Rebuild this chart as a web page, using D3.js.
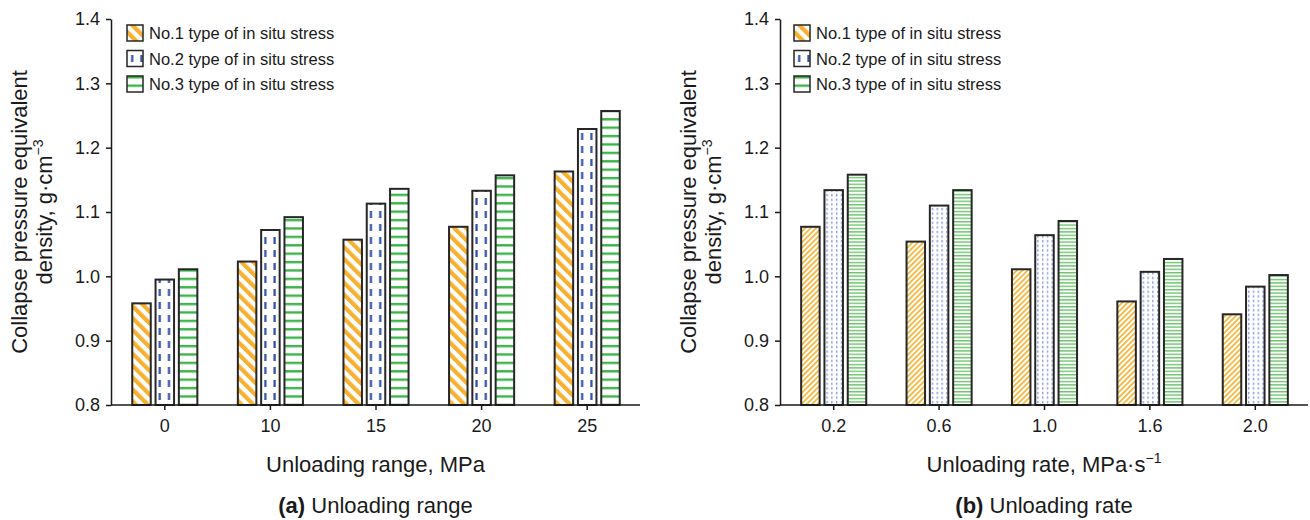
<!DOCTYPE html>
<html><head><meta charset="utf-8">
<script src="https://cdn.jsdelivr.net/npm/d3@7"></script>
<style>
body{margin:0;background:#fff;}
svg text{font-family:"Liberation Sans",Arial,Helvetica,sans-serif;fill:#1a1a1a;}
</style></head><body>
<svg id="chart" width="1310" height="520"></svg>
<script>
// ---------- data ----------
const rangeCategories = ["0", "10", "15", "20", "25"];
const rateCategories = ["0.2", "0.6", "1.0", "1.6", "2.0"];
const seriesNames = ["No.1 type of in situ stress", "No.2 type of in situ stress", "No.3 type of in situ stress"];
const rangeNo1 = [0.958, 1.023, 1.057, 1.077, 1.163];
const rangeNo2 = [0.995, 1.072, 1.113, 1.133, 1.229];
const rangeNo3 = [1.011, 1.092, 1.136, 1.157, 1.257];
const rateNo1 = [1.077, 1.054, 1.011, 0.961, 0.941];
const rateNo2 = [1.134, 1.110, 1.064, 1.007, 0.984];
const rateNo3 = [1.158, 1.134, 1.086, 1.027, 1.002];
const yTickValues = [0.8, 0.9, 1.0, 1.1, 1.2, 1.3, 1.4];
const yTitleLine1 = "Collapse pressure equivalent";
const yTitleLine2 = "density, g·cm";
const yTitleSup = "−3";

// ---------- styling ----------
const INK = "#1a1a1a";
const BAR_STROKE = "#262626";
const COLORS = {orange: "#F7B030", blue: "#2F4FA5", green: "#3DB54A",
                orange2: "#F5B335", blue2: "#7F95D6", green2: "#6EC36E"};

const svg = d3.select("#chart");
const defs = svg.append("defs");

function addPattern(id, style, ox) {
  const p = defs.append("pattern").attr("id", id).attr("patternUnits", "userSpaceOnUse");
  const bg = (w, h) => p.append("rect").attr("width", w).attr("height", h).attr("fill", "#fff");
  switch (style) {
    case "thickDiag": {
      const w = 8.4;
      p.attr("width", w).attr("height", w).attr("patternTransform", `translate(${ox},0) rotate(-45)`);
      bg(w, w); p.append("rect").attr("width", 4.2).attr("height", w).attr("fill", COLORS.orange);
      break;
    }
    case "dashV": {
      const w = 9.25, h = 13;
      p.attr("width", w).attr("height", h).attr("x", ox);
      bg(w, h); p.append("rect").attr("x", 3.1).attr("y", 3).attr("width", 2.2).attr("height", 7).attr("fill", COLORS.blue);
      break;
    }
    case "hLines": {
      const w = 10, h = 8.4;
      p.attr("width", w).attr("height", h).attr("y", 0.5);
      bg(w, h); p.append("rect").attr("y", 0).attr("width", w).attr("height", 2.4).attr("fill", COLORS.green);
      break;
    }
    case "thinDiag": {
      const w = 3.8;
      p.attr("width", w).attr("height", w).attr("patternTransform", `translate(${ox},0) rotate(45)`);
      bg(w, w); p.append("rect").attr("width", 1.7).attr("height", w).attr("fill", COLORS.orange2);
      break;
    }
    case "dotV": {
      const w = 4.8, h = 4.6;
      p.attr("width", w).attr("height", h).attr("x", ox);
      bg(w, h); p.append("rect").attr("x", 2.0).attr("y", 0.8).attr("width", 1.3).attr("height", 2.4).attr("fill", COLORS.blue2);
      break;
    }
    case "thinH": {
      const w = 10, h = 3.4;
      p.attr("width", w).attr("height", h);
      bg(w, h); p.append("rect").attr("width", w).attr("height", 1.4).attr("fill", COLORS.green2);
      break;
    }
  }
  return `url(#${id})`;
}

const y = d3.scaleLinear().domain([0.8, 1.4]).range([405, 19]);

const panels = [
  {id: "a", axisX: 111, x0: 112, x1: 640, categories: rangeCategories,
   series: [rangeNo1, rangeNo2, rangeNo3],
   styles: ["thickDiag", "dashV", "hLines"], legendStyles: ["thickDiag", "dashV", "hLines"],
   legendX: 127, xTitle: ["Unloading range, MPa", null], caption: ["(a)", " Unloading range"]},
  {id: "b", axisX: 780, x0: 781, x1: 1308, categories: rateCategories,
   series: [rateNo1, rateNo2, rateNo3],
   styles: ["thinDiag", "dotV", "thinH"], legendStyles: ["thickDiag", "dashV", "hLines"],
   legendX: 794, xTitle: ["Unloading rate, MPa·s", "−1"], caption: ["(b)", " Unloading rate"]}
];

panels.forEach(P => {
  const g = svg.append("g");
  const x = d3.scaleBand().domain(P.categories).range([P.x0, P.x1]).padding(0);
  const inner = d3.scaleBand().domain(d3.range(3)).range([-32.55, 32.55]).paddingInner(0.206).paddingOuter(0);
  const bw = inner.bandwidth();

  // bars
  P.series.forEach((vals, s) => {
    g.append("g").selectAll("rect").data(vals).join("rect")
      .attr("x", (d, i) => x(P.categories[i]) + x.bandwidth() / 2 + inner(s))
      .attr("y", d => y(d))
      .attr("width", bw)
      .attr("height", d => y(0.8) - y(d))
      .attr("fill", (d, i) => addPattern(`p${P.id}${s}_${i}`, P.styles[s], x(P.categories[i]) + x.bandwidth() / 2 + inner(s)))
      .attr("stroke", BAR_STROKE).attr("stroke-width", 2);
  });

  // axes
  const yAxis = d3.axisLeft(y).tickValues(yTickValues).tickFormat(d3.format(".1f"))
    .tickSize(5).tickPadding(6).tickSizeOuter(0);
  const ya = g.append("g").attr("transform", `translate(${P.axisX},0)`).call(yAxis);
  const xAxis = d3.axisBottom(x).tickSize(5).tickPadding(9).tickSizeOuter(0);
  const xa = g.append("g").attr("transform", `translate(0,${y(0.8)})`).call(xAxis);
  xa.select(".domain").attr("d", `M${P.axisX},0H${P.x1}`);
  [ya, xa].forEach(a => {
    a.attr("font-family", null).attr("font-size", null);
    a.selectAll(".domain, .tick line").attr("stroke", INK).attr("stroke-width", 1.5);
    a.selectAll("text").attr("font-size", "18px").attr("fill", INK);
  });

  // y title
  const cy = (y(0.8) + y(1.4)) / 2;
  g.append("text").attr("transform", "rotate(-90)").attr("x", -cy).attr("y", P.axisX - 84)
    .attr("text-anchor", "middle").attr("font-size", "22px").text(yTitleLine1);
  const t2 = g.append("text").attr("transform", "rotate(-90)").attr("x", -cy).attr("y", P.axisX - 59)
    .attr("text-anchor", "middle").attr("font-size", "22px").text(yTitleLine2);
  t2.append("tspan").attr("font-size", "14px").attr("dy", "-9").text(yTitleSup);

  // x title
  const cx = (P.axisX + P.x1) / 2;
  const xt = g.append("text").attr("x", cx).attr("y", 472).attr("text-anchor", "middle")
    .attr("font-size", "22px").text(P.xTitle[0]);
  if (P.xTitle[1]) xt.append("tspan").attr("font-size", "14px").attr("dy", "-9").text(P.xTitle[1]);

  // caption
  const cap = g.append("text").attr("x", cx).attr("y", 513).attr("text-anchor", "middle").attr("font-size", "22px");
  cap.append("tspan").attr("font-weight", "bold").text(P.caption[0]);
  cap.append("tspan").text(P.caption[1]);

  // legend
  const lg = g.append("g");
  seriesNames.forEach((name, s) => {
    const cyL = 33 + s * 25.5;
    lg.append("rect").attr("x", P.legendX).attr("y", cyL - 8).attr("width", 16).attr("height", 16)
      .attr("fill", addPattern(`lg${P.id}${s}`, P.legendStyles[s], P.legendX + 1))
      .attr("stroke", BAR_STROKE).attr("stroke-width", 1.5);
    lg.append("text").attr("x", P.legendX + 22).attr("y", cyL + 6).attr("font-size", "16.5px").text(name);
  });
});
</script>
</body></html>
